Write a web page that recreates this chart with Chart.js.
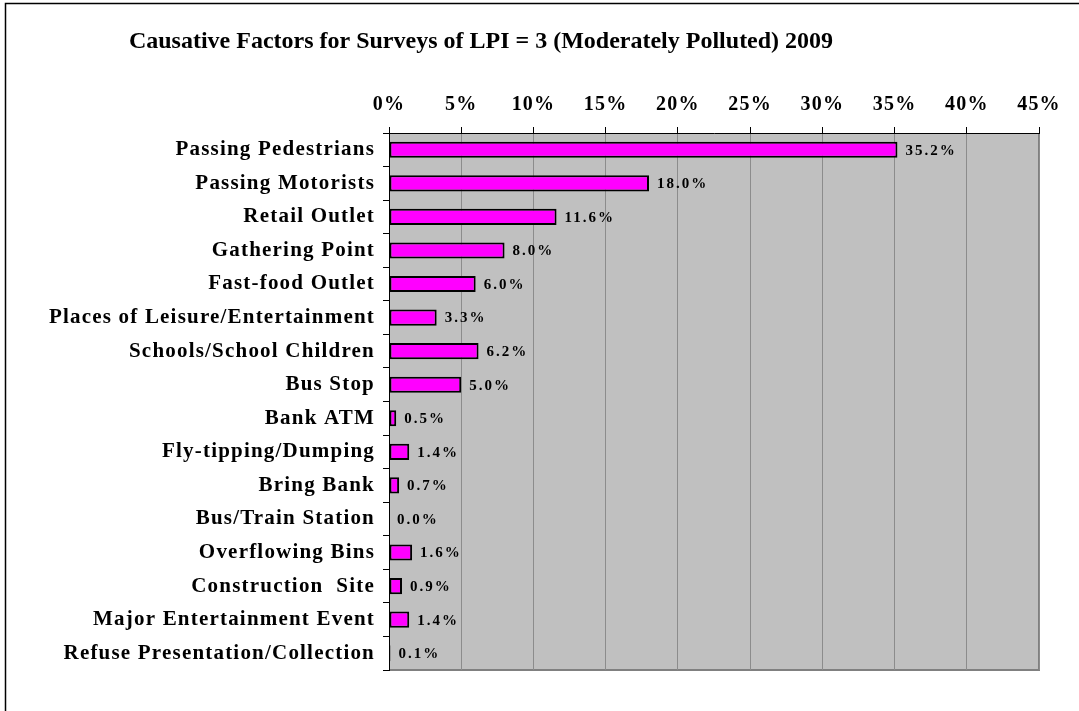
<!DOCTYPE html>
<html>
<head>
<meta charset="utf-8">
<script src="https://cdn.jsdelivr.net/npm/chart.js@4.4.1/dist/chart.umd.min.js"></script>
<style>
  html, body { margin: 0; padding: 0; background: #fff; }
  canvas { display: block; }
</style>
</head>
<body>
<canvas id="chart" width="1079" height="711"></canvas>
<script>
// ─── Données ──────────────────────────────────────────────────────────────
const TITLE = 'Causative Factors for Surveys of LPI = 3 (Moderately Polluted) 2009';

const categories = [
  'Passing Pedestrians',
  'Passing Motorists',
  'Retail Outlet',
  'Gathering Point',
  'Fast-food Outlet',
  'Places of Leisure/Entertainment',
  'Schools/School Children',
  'Bus Stop',
  'Bank ATM',
  'Fly-tipping/Dumping',
  'Bring Bank',
  'Bus/Train Station',
  'Overflowing Bins',
  'Construction  Site',
  'Major Entertainment Event',
  'Refuse Presentation/Collection',
];

// % des relevés
const shares = [35.2, 18.0, 11.6, 8.0, 6.0, 3.3, 6.2, 5.0, 0.5, 1.4, 0.7, 0.0, 1.6, 0.9, 1.4, 0.1];

const axisMin  = 0;
const axisMax  = 45;
const axisStep = 5;

// ─── Style ────────────────────────────────────────────────────────────────
const SERIF     = '"Liberation Serif", "Times New Roman", serif';
const PLOT_BG   = '#c0c0c0';
const PLOT_EDGE = '#808080';
const BAR_FILL  = '#ff00ff';

// Fond gris de la zone de tracé + cadre extérieur
const backdrop = {
  id: 'backdrop',
  beforeDraw(chart) {
    const { ctx, chartArea: a } = chart;
    ctx.save();
    ctx.fillStyle = PLOT_BG;
    ctx.fillRect(a.left, a.top, a.right - a.left, a.bottom - a.top);
    ctx.strokeStyle = PLOT_EDGE;
    ctx.lineWidth = 2;
    ctx.beginPath();
    ctx.moveTo(a.right, a.top);
    ctx.lineTo(a.right, a.bottom);
    ctx.lineTo(a.left, a.bottom);
    ctx.stroke();
    ctx.strokeStyle = '#000';
    ctx.lineWidth = 1.5;
    ctx.strokeRect(5.5, 3.5, 2000, 2000);
    ctx.restore();
    // espacement des lettres pour les libellés d'axes
    ctx.letterSpacing = '1.2px';
  },
  beforeDatasetsDraw(chart) {
    chart.ctx.letterSpacing = '0px';
  },
};

// Étiquettes de valeur à droite des barres
const valueLabels = {
  id: 'valueLabels',
  afterDatasetsDraw(chart) {
    const { ctx } = chart;
    const meta = chart.getDatasetMeta(0);
    ctx.save();
    ctx.letterSpacing = '2px';
    ctx.font = 'bold 15px ' + SERIF;
    ctx.fillStyle = '#000';
    ctx.textAlign = 'left';
    ctx.textBaseline = 'middle';
    meta.data.forEach((bar, i) => {
      ctx.fillText(shares[i].toFixed(1) + '%', bar.x + 8, bar.y + 1);
    });
    ctx.restore();
  },
};

// Titre (décalé à gauche comme l'original)
const titleText = {
  id: 'titleText',
  afterDraw(chart) {
    const { ctx } = chart;
    ctx.save();
    ctx.letterSpacing = '0px';
    ctx.font = 'bold 24px ' + SERIF;
    ctx.fillStyle = '#000';
    ctx.textAlign = 'center';
    ctx.textBaseline = 'alphabetic';
    ctx.fillText(TITLE, 481, 48);
    ctx.restore();
  },
};

new Chart(document.getElementById('chart'), {
  type: 'bar',
  data: {
    labels: categories,
    datasets: [{
      data: shares,
      backgroundColor: BAR_FILL,
      borderColor: '#000',
      borderWidth: 2,
      borderSkipped: false,
      barPercentage: 0.48,
      categoryPercentage: 1,
    }],
  },
  options: {
    indexAxis: 'y',
    responsive: false,
    animation: false,
    layout: { padding: { left: 0, right: 40, top: 0, bottom: 41 } },
    plugins: {
      legend:  { display: false },
      tooltip: { enabled: false },
      title:   { display: false },
    },
    scales: {
      x: {
        position: 'top',
        min: axisMin,
        max: axisMax,
        afterFit: (s) => { s.height = 133; },
        ticks: {
          stepSize: axisStep,
          color: '#000',
          padding: 10,
          font: { family: SERIF, size: 20, weight: 'bold' },
          callback: (v) => v + '%',
        },
        grid: { color: '#8c8c8c', tickColor: '#000', tickLength: 6, lineWidth: 1 },
        border: { color: '#000', width: 1 },
      },
      y: {
        afterFit: (s) => { s.width = 389; },
        ticks: {
          color: '#000',
          padding: 8,
          font: { family: SERIF, size: 21, weight: 'bold' },
        },
        grid: { drawOnChartArea: false, tickColor: '#000', tickLength: 6, offset: true },
        border: { color: '#000', width: 1 },
      },
    },
  },
  plugins: [backdrop, valueLabels, titleText],
});
</script>
</body>
</html>
